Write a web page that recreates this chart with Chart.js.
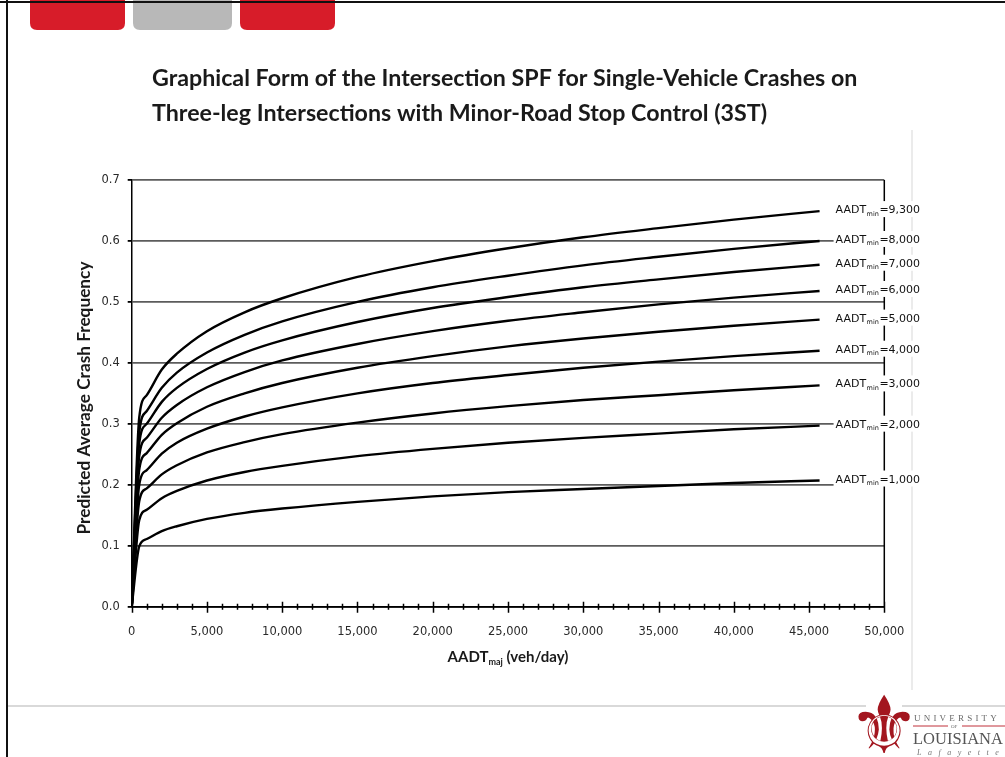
<!DOCTYPE html>
<html>
<head>
<meta charset="utf-8">
<title>3ST single-vehicle SPF</title>
<script src="https://cdn.jsdelivr.net/npm/chart.js@4.4.1/dist/chart.umd.min.js"></script>
<style>
  html, body { margin: 0; padding: 0; background: #fff; }
  #wrap { width: 1005px; height: 757px; }
</style>
</head>
<body>
<div id="wrap"><canvas id="spfChart" width="1005" height="757"></canvas></div>
<script>
// major-road AADT (veh/day) where each curve was sampled
const majorVolumes = [0, 500, 1000, 2000, 3000, 5000, 7500, 10000, 15000, 20000, 25000, 30000, 35000, 40000, 45700];
// one curve per minor-road AADT
const minorVolumes = [1000, 2000, 3000, 4000, 5000, 6000, 7000, 8000, 9300];

const freqMin1000 = [0, 0.099, 0.111, 0.124, 0.132, 0.144, 0.154, 0.161, 0.172, 0.181, 0.188, 0.193, 0.198, 0.203, 0.207];
const freqMin2000 = [0, 0.142, 0.159, 0.178, 0.190, 0.207, 0.221, 0.231, 0.247, 0.259, 0.269, 0.277, 0.284, 0.291, 0.297];
const freqMin3000 = [0, 0.173, 0.194, 0.217, 0.232, 0.253, 0.270, 0.283, 0.302, 0.317, 0.329, 0.339, 0.347, 0.355, 0.363];
const freqMin4000 = [0, 0.200, 0.224, 0.251, 0.269, 0.292, 0.312, 0.327, 0.350, 0.367, 0.380, 0.392, 0.402, 0.411, 0.420];
const freqMin5000 = [0, 0.225, 0.252, 0.282, 0.301, 0.328, 0.350, 0.367, 0.392, 0.411, 0.427, 0.440, 0.451, 0.461, 0.471];
const freqMin6000 = [0, 0.247, 0.277, 0.310, 0.331, 0.360, 0.385, 0.404, 0.431, 0.452, 0.469, 0.483, 0.496, 0.507, 0.518];
const freqMin7000 = [0, 0.268, 0.300, 0.336, 0.359, 0.390, 0.417, 0.437, 0.467, 0.490, 0.508, 0.524, 0.537, 0.549, 0.561];
const freqMin8000 = [0, 0.286, 0.321, 0.359, 0.384, 0.417, 0.446, 0.468, 0.500, 0.524, 0.543, 0.560, 0.574, 0.587, 0.600];
const freqMin9300 = [0, 0.310, 0.347, 0.389, 0.415, 0.452, 0.483, 0.506, 0.541, 0.567, 0.588, 0.606, 0.621, 0.635, 0.649];

const xTickLabels = ["0", "5,000", "10,000", "15,000", "20,000", "25,000", "30,000", "35,000", "40,000", "45,000", "50,000"];
const yTickLabels = ["0.0", "0.1", "0.2", "0.3", "0.4", "0.5", "0.6", "0.7"];

const titleLines = [
  "Graphical Form of the Intersection SPF for Single-Vehicle Crashes on",
  "Three-leg Intersections with Minor-Road Stop Control (3ST)"
];
const yTitle = "Predicted Average Crash Frequency";

const allSeries = [freqMin1000, freqMin2000, freqMin3000, freqMin4000, freqMin5000,
                   freqMin6000, freqMin7000, freqMin8000, freqMin9300];

const datasets = allSeries.map((vals, i) => ({
  label: "AADTmin=" + minorVolumes[i].toLocaleString("en-US"),
  data: majorVolumes.map((x, j) => ({ x: x, y: vals[j] })),
  borderColor: "#000",
  borderWidth: 2.4,
  pointRadius: 0,
  fill: false,
  cubicInterpolationMode: "monotone"
}));

// font size that makes text span a given width
function fitSize(ctx, text, weight, family, target) {
  ctx.font = weight + " 20px " + family;
  return 20 * target / ctx.measureText(text).width;
}

// letter-spaced text, one glyph at a time
function spacedText(ctx, text, x, y, gap) {
  for (const c of text) {
    ctx.fillText(c, x, y);
    x += ctx.measureText(c).width + gap;
  }
}

// slide background: tabs, frame, title, footer logo
const slideFrame = {
  id: "slideFrame",
  beforeDraw(chart) {
    const ctx = chart.ctx;
    ctx.save();
    ctx.fillStyle = "#fff";
    ctx.fillRect(0, 0, chart.width, chart.height);

    const tab = (x0, x1, color) => {
      const r = 7, y1 = 30;
      ctx.beginPath();
      ctx.moveTo(x0, 0);
      ctx.lineTo(x1, 0);
      ctx.lineTo(x1, y1 - r);
      ctx.quadraticCurveTo(x1, y1, x1 - r, y1);
      ctx.lineTo(x0 + r, y1);
      ctx.quadraticCurveTo(x0, y1, x0, y1 - r);
      ctx.closePath();
      ctx.fillStyle = color;
      ctx.fill();
    };
    tab(30, 125, "#d71c29");
    tab(133, 232, "#b8b8b8");
    tab(240, 335, "#d71c29");

    ctx.strokeStyle = "#111";
    ctx.lineWidth = 2;
    ctx.beginPath();
    ctx.moveTo(0, 2); ctx.lineTo(chart.width, 2);
    ctx.moveTo(7, 0); ctx.lineTo(7, chart.height);
    ctx.stroke();

    // faint slide guides
    ctx.strokeStyle = "#ebebeb";
    ctx.lineWidth = 2;
    ctx.beginPath();
    ctx.moveTo(912, 130); ctx.lineTo(912, 690);
    ctx.stroke();
    ctx.strokeStyle = "#d9d9d9";
    ctx.beginPath();
    ctx.moveTo(8, 706); ctx.lineTo(866, 706);
    ctx.moveTo(902, 706); ctx.lineTo(chart.width, 706);
    ctx.stroke();

    // title
    const tSize = fitSize(ctx, titleLines[0], "bold", "Lato", 706);
    ctx.font = "bold " + tSize + "px Lato";
    ctx.fillStyle = "#1a1a1a";
    ctx.textAlign = "left";
    ctx.textBaseline = "alphabetic";
    ctx.fillText(titleLines[0], 152, 86);
    ctx.fillText(titleLines[1], 152, 121);

    // logo
    ctx.fillStyle = "#a3161f";
    ctx.font = "80px 'DejaVu Sans'";
    ctx.textAlign = "center";
    ctx.textBaseline = "middle";
    ctx.fillText("\u269C", 884, 732);

    ctx.textAlign = "left";
    ctx.textBaseline = "alphabetic";
    ctx.fillStyle = "#6a6a6a";
    ctx.font = "9px 'Liberation Serif'";
    spacedText(ctx, "UNIVERSITY", 914, 721, 3.2);
    ctx.strokeStyle = "#c0303a";
    ctx.lineWidth = 1;
    ctx.beginPath();
    ctx.moveTo(913, 726); ctx.lineTo(948, 726);
    ctx.moveTo(962, 726); ctx.lineTo(1005, 726);
    ctx.stroke();
    ctx.font = "5px 'Liberation Serif'";
    ctx.fillText("OF", 951, 728);
    ctx.fillStyle = "#555";
    const lSize = fitSize(ctx, "LOUISIANA", "normal", "'Liberation Serif'", 90);
    ctx.font = lSize + "px 'Liberation Serif'";
    ctx.fillText("LOUISIANA", 913, 744);
    ctx.fillStyle = "#777";
    ctx.font = "italic 8px 'Liberation Serif'";
    spacedText(ctx, "Lafayette", 917, 755, 6.5);
    ctx.restore();
  }
};

// axis titles, x tick marks, right border and curve labels
const chartDecor = {
  id: "chartDecor",
  afterDatasetsDraw(chart) {
    const ctx = chart.ctx;
    const area = chart.chartArea;
    const xs = chart.scales.x;
    ctx.save();

    ctx.strokeStyle = "#000";
    ctx.lineWidth = 1.5;
    ctx.beginPath();
    for (let v = 0; v <= 50000; v += 1000) {
      const px = Math.round(xs.getPixelForValue(v)) + 0.5;
      const major = v % 5000 === 0;
      ctx.moveTo(px, area.bottom - (major ? 5 : 3));
      ctx.lineTo(px, area.bottom + (major ? 6 : 3));
    }
    ctx.moveTo(area.right, area.top);
    ctx.lineTo(area.right, area.bottom);
    ctx.stroke();

    // curve labels with white boxes
    ctx.textBaseline = "alphabetic";
    chart.data.datasets.forEach((ds, i) => {
      const meta = chart.getDatasetMeta(i);
      const end = meta.data[meta.data.length - 1];
      const x0 = end.x + 16, cy = end.y - 2;
      const tail = "=" + minorVolumes[i].toLocaleString("en-US");
      ctx.font = "11px 'DejaVu Sans'";
      const wA = ctx.measureText("AADT").width;
      const wT = ctx.measureText(tail).width;
      ctx.font = "6.5px 'DejaVu Sans'";
      const wS = ctx.measureText("min").width + 1;
      ctx.fillStyle = "#fff";
      ctx.fillRect(x0 - 2, cy - 8, wA + wS + wT + 4, 16);
      ctx.fillStyle = "#111";
      ctx.font = "11px 'DejaVu Sans'";
      ctx.fillText("AADT", x0, cy + 4);
      ctx.fillText(tail, x0 + wA + wS, cy + 4);
      ctx.font = "6.5px 'DejaVu Sans'";
      ctx.fillText("min", x0 + wA + 0.5, cy + 6.5);
    });

    // y title
    ctx.fillStyle = "#1a1a1a";
    const ySize = fitSize(ctx, yTitle, "bold", "Lato", 273);
    ctx.font = "bold " + ySize + "px Lato";
    ctx.translate(84, 398);
    ctx.rotate(-Math.PI / 2);
    ctx.textAlign = "center";
    ctx.textBaseline = "middle";
    ctx.fillText(yTitle, 0, 0);
    ctx.setTransform(1, 0, 0, 1, 0, 0);

    // x title with subscript
    ctx.textAlign = "left";
    ctx.textBaseline = "alphabetic";
    ctx.font = "bold 15px Lato";
    const a = ctx.measureText("AADT").width;
    const b = ctx.measureText(" (veh/day)").width;
    ctx.font = "bold 9px Lato";
    const s = ctx.measureText("maj").width;
    const start = 508 - (a + s + b) / 2;
    ctx.font = "bold 15px Lato";
    ctx.fillText("AADT", start, 662);
    ctx.fillText(" (veh/day)", start + a + s, 662);
    ctx.font = "bold 9px Lato";
    ctx.fillText("maj", start + a, 665);
    ctx.restore();
  }
};

const ctx = document.getElementById("spfChart").getContext("2d");
const chart = new Chart(ctx, {
  type: "line",
  data: { datasets: datasets },
  options: {
    responsive: false,
    animation: false,
    devicePixelRatio: 1,
    layout: { padding: { top: 180, right: 120.7, bottom: 100.3, left: 0 } },
    plugins: { legend: { display: false }, tooltip: { enabled: false } },
    scales: {
      x: {
        type: "linear",
        min: 0,
        max: 50000,
        ticks: {
          stepSize: 1000,
          autoSkip: false,
          maxRotation: 0,
          padding: 18,
          color: "#2a2a2a",
          font: { family: "DejaVu Sans", size: 11.5 },
          callback: (v) => (v % 5000 === 0 ? xTickLabels[v / 5000] : "")
        },
        grid: { drawOnChartArea: false, drawTicks: false },
        border: { color: "#000", width: 1.5 },
        afterFit: (s) => { s.height = 50; }
      },
      y: {
        min: 0,
        max: 0.7,
        afterBuildTicks: (s) => { s.ticks = yTickLabels.map((t) => ({ value: parseFloat(t) })); },
        ticks: {
          padding: 8,
          color: "#2a2a2a",
          font: { family: "DejaVu Sans", size: 11.5 },
          callback: (v, i) => yTickLabels[i]
        },
        grid: {
          color: (c) => (c.tick && c.tick.value === 0 ? "#000" : "#5c5c5c"),
          lineWidth: 1.8,
          tickLength: 4,
          tickColor: "#000"
        },
        border: { color: "#000", width: 1.5 },
        afterFit: (s) => { s.width = 131.7; }
      }
    }
  },
  plugins: [slideFrame, chartDecor]
});
</script>
</body>
</html>
